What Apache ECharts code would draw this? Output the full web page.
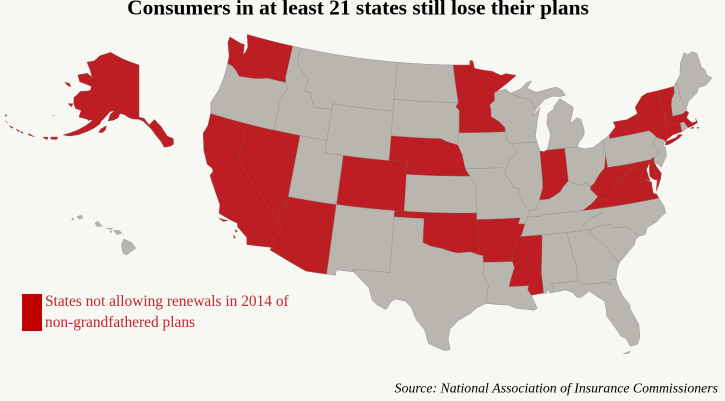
<!DOCTYPE html>
<html>
<head>
<meta charset="utf-8">
<style>html,body{margin:0;padding:0;background:#f7f7f3}#map{width:725px;height:401px}</style>
<script src="https://cdn.jsdelivr.net/npm/echarts@6/dist/echarts.min.js"></script>
</head>
<body>
<div id="map"></div>
<script>
var titleText = 'Consumers in at least 21 states still lose their plans';
var legendLines = ['States not allowing renewals in 2014 of', 'non-grandfathered plans'];
var sourceText = 'Source: National Association of Insurance Commissioners';

var stateNames = ['Alabama','Alaska','Arizona','Arkansas','California','Colorado','Connecticut','Delaware','Florida','Georgia','Hawaii','Idaho','Illinois','Indiana','Iowa','Kansas','Kentucky','Louisiana','Maine','Maryland','Massachusetts','Michigan','Minnesota','Mississippi','Missouri','Montana','Nebraska','Nevada','New Hampshire','New Jersey','New Mexico','New York','North Carolina','North Dakota','Ohio','Oklahoma','Oregon','Pennsylvania','Rhode Island','South Carolina','South Dakota','Tennessee','Texas','Utah','Vermont','Virginia','Washington','West Virginia','Wisconsin','Wyoming'];
// 1 = not allowing renewals
var noRenewal = [0,1,1,1,1,1,1,1,0,0,0,0,0,1,0,0,0,0,0,1,1,0,1,1,0,0,1,1,0,0,0,1,0,0,0,1,0,0,0,0,0,0,0,0,1,1,1,1,0,0];

// shared borders, lon/lat
var croix = [[-92.1,46.75],[-92.29,46.66],[-92.29,46.07],[-92.87,45.7],[-92.75,45.3],[-92.76,44.75],[-92,44.4],[-91.25,43.85],[-91.22,43.5]];
var missWI = [[-91.1,42.7],[-90.64,42.51]];
var missIA = [[-90.15,41.9],[-90.35,41.55],[-91.05,41.2],[-91,40.95],[-91.42,40.38]];
var missMO = [[-91.5,40],[-90.75,39.25],[-90.7,38.95],[-90.12,38.85],[-90.2,38.4],[-89.85,37.9],[-89.5,37.3],[-89.15,36.98]];
var ohioIL = [[-88.5,37.07],[-88.05,37.8]];
var ohioIN = [[-87.1,37.8],[-86.5,38],[-85.8,38.3],[-85.4,38.7],[-84.82,39.1]];
var ohioOH = [[-84.3,38.85],[-83.7,38.63],[-83,38.73],[-82.6,38.42]];
var ohioWV = [[-82.2,38.6],[-81.8,39],[-81.4,39.35],[-80.85,39.7],[-80.6,40.4],[-80.52,40.64]];
var vaKY = [[-81.97,37.54],[-82.7,37.05],[-83.68,36.6]];
var wvVA = [[-81.97,37.54],[-81.68,37.2],[-81.23,37.24],[-80.3,37.5],[-80.3,37.7],[-79.95,38.2],[-79.65,38.6],[-79.3,38.42],[-78.87,38.77],[-78.35,39.4],[-77.83,39.13],[-77.72,39.32]];
var potomac = [[-79.48,39.2],[-78.95,39.45],[-78.35,39.65],[-77.83,39.6],[-77.72,39.32]];
var tnNC = [[-81.68,36.59],[-82,36.12],[-82.9,35.95],[-83.7,35.55],[-84.32,35]];
var ncCoast = [[-78.55,33.86],[-77.95,33.87],[-77.6,34.4],[-76.6,34.7],[-76,35.05],[-75.5,35.25],[-75.5,35.8],[-75.87,36.55]];
var redRiver = [[-100,34.56],[-99.2,34.3],[-98.1,34.13],[-97.2,33.9],[-96.5,33.78],[-95.3,33.88],[-94.48,33.64]];
var idMT = [[-116.05,49],[-116.05,48],[-115.7,47.45],[-114.9,46.9],[-114.35,46.65],[-114.5,45.56],[-113.9,45.62],[-113.45,44.95],[-113,44.45],[-111.5,44.55],[-111.05,44.48]];
var snake = [[-116.92,45.99],[-116.5,45.5],[-116.85,45],[-117.2,44.4],[-117.03,43.8],[-117.03,42]];
var columbia = [[-117.04,46.42],[-116.92,45.99],[-119,46],[-119.3,45.93],[-120.5,45.7],[-121.2,45.65],[-122.3,45.55],[-122.8,45.9],[-123.4,46.2],[-124,46.27]];
var azCA = [[-114.63,35],[-114.15,34.27],[-114.72,33.4],[-114.5,33],[-114.72,32.72]];
var nwPA = [[-80.52,41.98],[-79.76,42.27],[-79.76,42]];
var delaware = [[-75.35,42],[-75.05,41.75],[-74.7,41.36],[-75.13,40.98],[-75.2,40.65],[-74.73,40.15],[-75.4,39.8]];
var neSD = [[-96.56,45.95],[-96.85,45.6],[-96.45,45.3],[-96.45,43.5]];
var moRiver = [[-96.45,43.5],[-96.6,42.5],[-96.1,41.7],[-95.9,41],[-95.77,40.58]];
var wiMI = [[-90.4,46.57],[-89.1,46.14],[-88.1,45.9],[-87.8,45.35],[-87.6,45.1]];

function rev(a){ return a.slice().reverse(); }
function box(w,n,e,s){ return [[w,n],[e,n],[e,s],[w,s]]; }

var stateShapes = {
  'Alabama': [[[-88.2,35],[-85.6,34.98],[-85.18,32.87],[-85,32.3],[-85.05,31.55],[-85,31],[-87.6,31],[-87.4,30.65],[-87.52,30.28],[-87.8,30.25],[-87.95,30.65],[-88.1,30.25],[-88.4,30.3],[-88.47,31.9],[-88.1,34.9]]],
  'Alaska': [
    [[-141,69.65],[-141,60.3],[-139.2,60.1],[-137.5,58.9],[-135.5,59.8],[-134,58.8],[-133.4,58.4],[-131.8,56.6],[-130,56],[-130.2,55],[-131.3,54.75],[-133.2,54.7],[-134,55.8],[-135.5,57],[-136.6,58],[-137.6,58.6],[-139.5,59.6],[-141,59.95],[-143.5,60],[-145,60.3],[-146.5,60.7],[-148,60.8],[-148.5,60],[-150,59.5],[-151.8,59.2],[-151.4,60.5],[-150,61.2],[-151.7,60.9],[-152.6,60.2],[-153.5,59.4],[-154.2,59],[-154.5,58.4],[-156,57.5],[-158,56.6],[-160.5,55.6],[-163,54.9],[-164.9,54.7],[-163,55.5],[-161,56.4],[-159,57.5],[-157.8,58.3],[-157.2,58.9],[-158.7,58.5],[-159,58.7],[-162,58.65],[-162,59.9],[-164.2,59.9],[-165.3,60.6],[-166.1,61.6],[-165,62.6],[-164.7,63],[-162,63.5],[-161,63.8],[-161,64.5],[-163,64.6],[-166.3,64.6],[-168.1,65.6],[-164.5,66.5],[-162,66.1],[-163.6,67.1],[-166.5,68.35],[-163.5,69],[-161.5,70.25],[-156.6,71.35],[-152,70.85],[-148,70.4],[-144,70]],
    [[-152.2,58.3],[-153.9,57.5],[-154.3,56.9],[-153,57],[-152.2,57.6]],
    [[-171.7,63.4],[-170,63.6],[-168.8,63.2],[-170,63.1]],
    [[-167.3,60.2],[-165.6,60.5],[-165.7,59.9]],
    [[-170.4,57.2],[-170,57.25],[-170.1,57.1]],
    [[-168.2,53.5],[-166.2,54],[-166.3,53.5],[-167.8,53.2]],
    [[-170.3,52.9],[-168.9,53.3],[-168.9,52.8]],
    [[-172.6,52.3],[-174.4,52.1],[-174.4,52.35]],
    [[-176.9,51.95],[-176,52],[-176.2,51.75]],
    [[-178.3,51.9],[-177.2,51.95],[-177.3,51.7]],
    [[-180.5,51.7],[-179.3,51.85],[-179.4,51.6]],
    [[-182.2,52],[-181.2,52],[-181.3,51.8]],
    [[-183.3,52.9],[-182.7,53],[-182.8,52.7]]
  ],
  'Arizona': [[[-114.05,37],[-109.05,37],[-109.05,31.33],[-111.07,31.33],[-114.81,32.5]].concat(rev(azCA),[[-114.75,36.1],[-114.05,36.2]])],
  'Arkansas': [[[-94.62,36.5],[-90.15,36.5],[-90.37,36],[-89.7,36],[-90.1,35.1],[-90.3,35],[-90.6,34.6],[-91.1,33.9],[-91.17,33],[-94.04,33.02],[-94.04,33.55],[-94.48,33.64],[-94.43,35.4]]],
  'California': [
    [[-124.2,42],[-120,42],[-120,39]].concat(azCA,[[-117.12,32.53],[-117.3,33.1],[-118.4,33.75],[-118.5,34.03],[-119.2,34.15],[-120.5,34.45],[-120.65,35.15],[-121.9,36.6],[-122.4,37.2],[-122.2,37.6],[-122.4,37.8],[-123,38],[-123.75,39],[-124.35,40.3],[-124.1,41]]),
    [[-120.4,34.05],[-119.5,34.05],[-119.9,33.9]],
    [[-118.6,33.48],[-118.3,33.4],[-118.45,33.3]],
    [[-118.6,33.05],[-118.35,32.85],[-118.5,32.8]]
  ],
  'Colorado': [box(-109.05,41,-102.05,37)],
  'Connecticut': [[[-73.5,42.05],[-71.8,42.02],[-71.85,41.32],[-72.9,41.25],[-73.65,41],[-73.5,41.3]]],
  'Delaware': [[[-75.79,39.72],[-75.6,39.84],[-75.4,39.8],[-75.55,39.5],[-75.4,39.05],[-75.05,38.45],[-75.7,38.46]]],
  'Florida': [
    [[-87.6,31],[-85,31],[-84.86,30.71],[-82.2,30.57],[-82.05,30.36],[-82,30.75],[-81.45,30.72],[-81.3,29.9],[-81,29.2],[-80.55,28.5],[-80.55,28.1],[-80.03,26.8],[-80.1,25.8],[-80.45,25.2],[-81.1,25.15],[-81.35,25.8],[-81.8,26.1],[-82.1,26.7],[-82.5,27.4],[-82.8,27.85],[-82.75,28.4],[-82.8,29.1],[-83.5,29.6],[-84.1,30.08],[-84.9,29.65],[-85.3,29.68],[-85.7,30.15],[-86.3,30.38],[-87.52,30.28],[-87.4,30.65]],
    [[-81.8,24.6],[-81.2,24.75],[-81.3,24.6]]
  ],
  'Georgia': [[[-85.6,34.98],[-84.32,35],[-83.11,35],[-83.35,34.7],[-82.75,34.2],[-81.95,33.5],[-81.4,32.6],[-80.87,32.03],[-81.2,31.5],[-81.45,30.72],[-82,30.75],[-82.05,30.36],[-82.2,30.57],[-84.86,30.71],[-85,31],[-85.05,31.55],[-85,32.3],[-85.18,32.87]]],
  'Hawaii': [
    [[-160.2,21.85],[-160.1,22],[-160.05,21.8]],
    [[-159.75,22.1],[-159.35,22.2],[-159.3,21.95],[-159.6,21.9]],
    [[-158.25,21.55],[-158,21.7],[-157.65,21.3],[-158.1,21.3]],
    [[-157.3,21.1],[-156.75,21.15],[-156.9,21.05]],
    [[-157,20.9],[-156.85,20.9],[-156.9,20.75]],
    [[-156.7,20.95],[-156.25,20.95],[-156,20.75],[-156.4,20.6]],
    [[-156.05,19.75],[-155.85,20.25],[-155.2,19.95],[-154.85,19.5],[-155.65,18.95],[-155.9,19.1]]
  ],
  'Idaho': [[[-117.03,49]].concat(idMT,[[-111.05,42]],rev(snake),[[-117.04,46.42]])],
  'Illinois': [[[-90.64,42.51],[-87.8,42.49],[-87.55,41.75],[-87.53,39.35],[-87.6,38.7]].concat(rev(ohioIL),[[-89.15,36.98]],rev(missMO),[[-91.42,40.38]],rev(missIA).slice(1))],
  'Indiana': [[[-87.53,41.72],[-87.1,41.65],[-86.8,41.76],[-84.8,41.76],[-84.82,39.1]].concat(rev(ohioIN).slice(1),[[-88.05,37.8],[-87.6,38.7],[-87.53,39.35]])],
  'Iowa': [[[-96.45,43.5],[-91.22,43.5]].concat(missWI,missIA,[[-91.73,40.6]],rev(moRiver).slice(0))],
  'Kansas': [[[-102.05,40],[-95.3,40],[-94.62,39.1],[-94.62,37],[-102.05,37]]],
  'Kentucky': [[[-89.15,36.98]].concat(ohioIL,ohioIN,ohioOH,[[-82.6,38.15]],vaKY,[[-88.07,36.6],[-88.07,36.5],[-89.4,36.5]])],
  'Louisiana': [[[-94.04,33.02],[-91.17,33],[-91,32.5],[-91.4,31.6],[-91.6,31],[-89.73,31],[-89.85,30.65],[-89.55,30.2],[-89.4,29.8],[-89.1,29.1],[-89.4,28.95],[-90.2,29.1],[-91,29.2],[-91.8,29.5],[-92.6,29.55],[-93.85,29.7],[-93.7,30.5],[-93.55,31.2],[-94.04,32]]],
  'Maine': [[[-71.08,45.3],[-70.4,45.8],[-70.25,46.2],[-70,46.7],[-69.23,47.46],[-68.9,47.2],[-68.3,47.35],[-67.8,47.07],[-67.78,45.9],[-67.45,45.6],[-67.45,45.2],[-66.97,44.82],[-67.9,44.4],[-68.8,44.4],[-69.1,44],[-69.8,43.75],[-70.25,43.6],[-70.7,43.07],[-70.98,43.4]]],
  'Maryland': [[[-79.48,39.72],[-75.79,39.72],[-75.7,38.46],[-75.05,38.45],[-75.25,38.03],[-75.62,37.99],[-75.95,38.1],[-76.3,38.4],[-76.2,38.9],[-76,39.55],[-76.2,39.3],[-76.5,39],[-76.45,38.4],[-76.35,38.05],[-76.95,38.3],[-77.25,38.45],[-77.04,38.8],[-77.25,39],[-77.72,39.32]].concat(rev(potomac).slice(1))],
  'Massachusetts': [
    [[-73.5,42.05],[-73.27,42.75],[-71.3,42.7],[-70.82,42.87],[-70.6,42.65],[-71,42.3],[-70.55,41.8],[-70.05,41.8],[-70.05,42.05],[-69.95,41.7],[-70.6,41.55],[-71.12,41.5],[-71.38,42.02],[-71.8,42.02]],
    [[-70.85,41.4],[-70.5,41.45],[-70.55,41.33]],
    [[-70.2,41.3],[-69.95,41.3],[-70.05,41.22]]
  ],
  'Michigan': [
    [[-86.8,41.76],[-84.8,41.76],[-83.45,41.73],[-83.15,42.1],[-82.5,42.6],[-82.42,43],[-82.6,43.9],[-83,44.07],[-83.9,43.65],[-83.3,44.85],[-83.4,45.05],[-84.7,45.78],[-85.5,45.2],[-85.5,45],[-86.25,44.7],[-86.5,43.9],[-86.2,43],[-86.6,42]],
    wiMI.concat([[-86.5,45.85],[-85.5,46.05],[-84.7,45.95],[-84,46],[-84.4,46.5],[-85,46.75],[-86,46.65],[-87.4,46.5],[-88.4,46.9],[-87.8,47.45],[-88.4,47.35],[-89.1,46.9]])
  ],
  'Minnesota': [[[-97.23,49],[-95.15,49],[-95.15,49.38],[-94.8,49.33],[-94.6,48.72],[-93.5,48.55],[-92.5,48.45],[-91.4,48.07],[-90.8,48.2],[-89.6,48],[-90.85,47.35]].concat(croix,[[-96.45,43.5]],rev(neSD).slice(1),[[-96.8,46.9]])],
  'Mississippi': [[[-90.3,35],[-88.2,35],[-88.1,34.9],[-88.47,31.9],[-88.4,30.3],[-89.55,30.2],[-89.85,30.65],[-89.73,31],[-91.6,31],[-91.4,31.6],[-91,32.5],[-91.17,33],[-91.1,33.9],[-90.6,34.6]]],
  'Missouri': [[[-95.77,40.58],[-91.73,40.6],[-91.42,40.38]].concat(missMO,[[-89.4,36.5],[-89.7,36],[-90.37,36],[-90.15,36.5],[-94.62,36.5],[-94.62,39.1],[-95.3,40]])],
  'Montana': [[[-116.05,49],[-104.05,49],[-104.05,45],[-111.05,45]].concat(rev(idMT))],
  'Nebraska': [[[-104.05,43],[-98.5,43],[-97.9,42.8]].concat(moRiver.slice(1),[[-95.3,40],[-102.05,40],[-102.05,41],[-104.05,41]])],
  'Nevada': [[[-120,42],[-114.05,42],[-114.05,36.2],[-114.75,36.1],[-114.63,35],[-120,39]]],
  'New Hampshire': [[[-71.5,45.01],[-71.08,45.3],[-70.98,43.4],[-70.7,43.07],[-70.82,42.87],[-71.3,42.7],[-72.46,42.73],[-72.3,43.6],[-72.05,44.1],[-71.6,44.5]]],
  'New Jersey': [[[-74.7,41.36],[-73.9,41],[-74.25,40.5],[-74,40.45],[-74.1,39.75],[-74.9,38.93],[-75.55,39.5],[-75.4,39.8],[-74.73,40.15],[-75.2,40.65],[-75.13,40.98]]],
  'New Mexico': [[[-109.05,37],[-103,37],[-103.04,36.5],[-103.06,32],[-106.62,32],[-106.53,31.78],[-108.2,31.78],[-108.2,31.33],[-109.05,31.33]]],
  'New York': [
    [[-79.76,42.27],[-78.9,42.85],[-79.05,43.27],[-77.5,43.25],[-76.2,43.55],[-76.3,44.1],[-75.3,44.85],[-74.7,45],[-73.35,45],[-73.4,44],[-73.25,43.55],[-73.27,42.75],[-73.5,42.05],[-73.5,41.3],[-73.65,41],[-73.9,40.8],[-73.9,41],[-74.7,41.36],[-75.05,41.75],[-75.35,42],[-79.76,42]],
    [[-74,40.6],[-73.75,40.85],[-72.6,40.98],[-72.3,41.15],[-71.87,41.07],[-72.5,40.82],[-73.5,40.58]]
  ],
  'North Carolina': [[[-81.68,36.59],[-75.87,36.55]].concat(rev(ncCoast).slice(1),[[-79.67,34.8],[-80.8,34.82],[-81.04,35.15],[-82.3,35.2],[-83.11,35]],rev(tnNC))],
  'North Dakota': [[[-104.05,49],[-97.23,49],[-96.8,46.9],[-96.56,45.95],[-104.05,45.95]]],
  'Ohio': [[[-84.8,41.76],[-83.45,41.73],[-82.7,41.5],[-81.7,41.5],[-80.52,41.98]].concat(rev(ohioWV),[[-82.6,38.42]],rev(ohioOH).slice(1),[[-84.82,39.1]])],
  'Oklahoma': [[[-103,37],[-94.62,37],[-94.62,36.5],[-94.43,35.4]].concat(rev(redRiver),[[-100,36.5],[-103.04,36.5]])],
  'Oregon': [[[-124,46.27]].concat(rev(columbia).slice(1,-1),snake,[[-124.2,42],[-124.55,42.85],[-124.1,44],[-123.95,45.2]])],
  'Pennsylvania': [nwPA.concat(delaware,[[-75.6,39.84],[-75.79,39.72],[-80.52,39.72]])],
  'Rhode Island': [[[-71.8,42.02],[-71.38,42.02],[-71.12,41.5],[-71.85,41.32]]],
  'South Carolina': [[[-83.11,35],[-82.3,35.2],[-81.04,35.15],[-80.8,34.82],[-79.67,34.8],[-78.55,33.86],[-78.9,33.65],[-79.2,33.2],[-79.9,32.7],[-80.45,32.3],[-80.87,32.03],[-81.4,32.6],[-81.95,33.5],[-82.75,34.2],[-83.35,34.7]]],
  'South Dakota': [[[-104.05,45.95]].concat(neSD,[[-96.6,42.5],[-97.9,42.8],[-98.5,43],[-104.05,43]])],
  'Tennessee': [[[-89.4,36.5],[-88.07,36.5],[-88.07,36.6],[-83.68,36.6]].concat(tnNC,[[-85.6,34.98],[-88.2,35],[-90.3,35],[-90.1,35.1],[-89.7,36]])],
  'Texas': [[[-106.62,32],[-103.06,32],[-103.04,36.5],[-100,36.5]].concat(redRiver,[[-94.04,33.55],[-94.04,33.02],[-94.04,32],[-93.55,31.2],[-93.7,30.5],[-93.85,29.7],[-94.7,29.35],[-95.3,28.9],[-96.4,28.35],[-97.2,27.6],[-97.35,26.8],[-97.15,25.95],[-97.6,25.85],[-98.2,26.05],[-99.1,26.4],[-99.5,27.5],[-100.3,28.3],[-100.8,29.25],[-101.4,29.77],[-102.3,29.88],[-102.7,29.7],[-103.15,28.98],[-104,29.3],[-104.5,29.65],[-104.9,30.6],[-106,31.4],[-106.53,31.78]])],
  'Utah': [[[-114.05,42],[-111.05,42],[-111.05,41],[-109.05,41],[-109.05,37],[-114.05,37]]],
  'Vermont': [[[-73.35,45],[-71.5,45.01],[-71.6,44.5],[-72.05,44.1],[-72.3,43.6],[-72.46,42.73],[-73.27,42.75],[-73.25,43.55],[-73.4,44]]],
  'Virginia': [
    [[-83.68,36.6]].concat(rev(vaKY).slice(1),wvVA.slice(1),[[-77.25,39],[-77.04,38.8],[-77.25,38.45],[-76.95,38.3],[-76.25,37.9],[-76.3,37.55],[-76.3,37],[-76,36.9],[-75.87,36.55],[-81.68,36.59]]),
    [[-75.95,37.15],[-75.6,37.55],[-75.25,38.03],[-75.62,37.99]]
  ],
  'Washington': [[[-124.7,48.4],[-123.2,48.15],[-122.75,48.15],[-122.55,47.3],[-122.35,47.6],[-122.25,48],[-122.75,49],[-117.03,49]].concat(columbia,[[-124.1,46.9],[-124.7,47.9]])],
  'West Virginia': [[[-80.52,40.64],[-80.52,39.72],[-79.48,39.72]].concat(potomac.slice(0,-1),rev(wvVA),[[-82.6,38.15],[-82.6,38.42]],ohioWV.slice(0,-1))],
  'Wisconsin': [croix.concat(missWI,[[-87.8,42.49],[-87.9,43],[-87.5,44.3],[-87.1,45.25],[-88,44.55]],rev(wiMI),[[-90.9,46.95]])],
  'Wyoming': [box(-111.05,45,-104.05,41)]
};

// Albers for the lower 48, with Alaska and Hawaii as insets
function albers(lon, lat, lat1, lat2, lon0, latRef) {
  var d = Math.PI / 180;
  var n = (Math.sin(lat1 * d) + Math.sin(lat2 * d)) / 2;
  var c = Math.pow(Math.cos(lat1 * d), 2) + 2 * n * Math.sin(lat1 * d);
  var rho = Math.sqrt(c - 2 * n * Math.sin(lat * d)) / n;
  var rho0 = Math.sqrt(c - 2 * n * Math.sin(latRef * d)) / n;
  var t = n * (lon - lon0) * d;
  return [rho * Math.sin(t), rho0 - rho * Math.cos(t)];
}
function project(p) {
  var q;
  if (p[1] > 51 && p[0] < -129.9) {
    q = albers(p[0], p[1], 55, 65, -141, 69.65);
    return [139 + 321 * q[0], 65 - 321 * q[1]];
  }
  if (p[0] < -154) {
    return [128 + (p[0] + 155.5) * 12, 247 - (p[1] - 19.6) * 12.2];
  }
  q = albers(p[0], p[1], 29.5, 45.5, -96, 37.5);
  return [463 + 705 * q[0], 207 - 705 * q[1]];
}

// long straight borders follow the parallels, so add points before projecting
function densify(ring) {
  var out = [];
  for (var i = 0; i < ring.length; i++) {
    var a = ring[i], b = ring[(i + 1) % ring.length];
    var steps = Math.max(1, Math.ceil(Math.abs(b[0] - a[0])));
    for (var k = 0; k < steps; k++) {
      out.push([a[0] + (b[0] - a[0]) * k / steps, a[1] + (b[1] - a[1]) * k / steps]);
    }
  }
  out.push(out[0]);
  return out;
}

var minX = 1e9, minY = 1e9, maxX = -1e9, maxY = -1e9;
var features = stateNames.map(function (name) {
  var polys = stateShapes[name].map(function (ring) {
    var r = densify(ring);
    r.forEach(function (p) {
      var q = project(p);
      minX = Math.min(minX, q[0]); maxX = Math.max(maxX, q[0]);
      minY = Math.min(minY, q[1]); maxY = Math.max(maxY, q[1]);
    });
    return [r];
  });
  return {type: 'Feature', properties: {name: name}, geometry: {type: 'MultiPolygon', coordinates: polys}};
});
echarts.registerMap('USA', {type: 'FeatureCollection', features: features});

var myChart = echarts.init(document.getElementById('map'), null, {devicePixelRatio: 2});
myChart.setOption({
  animation: false,
  backgroundColor: '#f7f7f3',
  series: [{
    type: 'map',
    map: 'USA',
    silent: true,
    roam: false,
    left: minX,
    top: minY,
    width: maxX - minX,
    height: maxY - minY,
    projection: {
      project: project,
      unproject: function (p) { return p; }
    },
    label: {show: false},
    itemStyle: {areaColor: '#b9b6af', borderColor: '#97948e', borderWidth: 0.5},
    data: stateNames.map(function (name, i) {
      return {
        name: name,
        value: noRenewal[i],
        itemStyle: noRenewal[i] ? {areaColor: '#bd1e24', borderColor: '#a0433f'} : null
      };
    })
  }],
  graphic: [
    {type: 'text', x: 358, y: 9, style: {text: titleText, align: 'center', verticalAlign: 'middle', font: 'bold 21.4px "Liberation Serif"', fill: '#000'}},
    {type: 'rect', x: 22, y: 294, shape: {width: 20, height: 37}, style: {fill: '#c00000'}},
    {type: 'text', x: 45, y: 302, style: {text: legendLines[0], verticalAlign: 'middle', font: '15.4px "Liberation Serif"', fill: '#c1272d'}},
    {type: 'text', x: 45, y: 323, style: {text: legendLines[1], verticalAlign: 'middle', font: '15.4px "Liberation Serif"', fill: '#c1272d'}},
    {type: 'text', x: 718, y: 389, style: {text: sourceText, align: 'right', verticalAlign: 'middle', font: 'italic 13.8px "Liberation Serif"', fill: '#000'}}
  ]
});
</script>
</body>
</html>
